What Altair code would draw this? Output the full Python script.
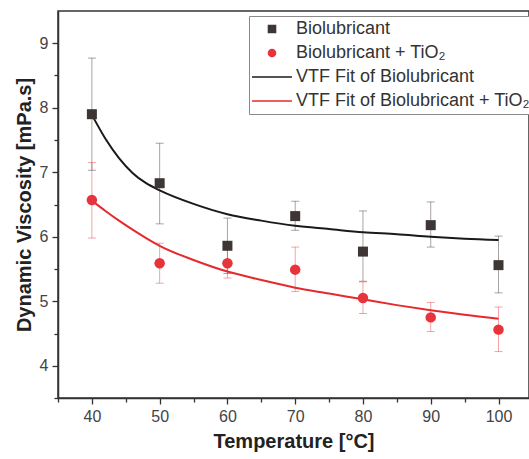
import altair as alt
import pandas as pd

# ---- data ----
temps = [40, 50, 60, 70, 80, 90, 100]

bio_mean = [7.90, 6.83, 5.86, 6.32, 5.77, 6.18, 5.56]
bio_lo   = [7.03, 6.20, 5.43, 6.10, 5.31, 5.84, 5.13]
bio_hi   = [8.77, 7.45, 6.29, 6.55, 6.40, 6.54, 6.01]

tio_mean = [6.57, 5.59, 5.59, 5.49, 5.05, 4.75, 4.56]
tio_lo   = [5.98, 5.28, 5.36, 5.15, 4.81, 4.53, 4.22]
tio_hi   = [7.15, 5.90, 5.80, 5.84, 5.30, 4.98, 4.91]

fit_T    = [40, 42, 44, 46, 48, 50, 55, 60, 65, 70, 75, 80, 85, 90, 95, 100]
fit_bio  = [7.89, 7.52, 7.22, 6.99, 6.83, 6.72, 6.51, 6.35, 6.25, 6.17, 6.12, 6.07, 6.04, 6.00, 5.97, 5.95]
fit_tio  = [6.56, 6.40, 6.25, 6.11, 5.98, 5.86, 5.64, 5.46, 5.33, 5.21, 5.12, 5.03, 4.94, 4.86, 4.79, 4.73]

legend_labels = ["Biolubricant", "Biolubricant + TiO₂",
                 "VTF Fit of Biolubricant", "VTF Fit of Biolubricant + TiO₂"]
# legend symbols: square, circle and long horizontal strokes (custom path)
LINE_PATH = "M-5.7,0H5.7"
legend_shapes = ["square", "circle", LINE_PATH, LINE_PATH]
legend_colors = ["#3d3634", "#e8333b", "#1a1a1a", "#e52a2e"]

x_ticks = [35, 40, 45, 50, 55, 60, 65, 70, 75, 80, 85, 90, 95, 100]
y_ticks = [3.5, 4, 4.5, 5, 5.5, 6, 6.5, 7, 7.5, 8, 8.5, 9]

FONT = "Liberation Sans"

pts = pd.DataFrame({
    "T": temps * 2,
    "v": bio_mean + tio_mean,
    "lo": bio_lo + tio_lo,
    "hi": bio_hi + tio_hi,
    "s": ["bio"] * 7 + ["tio"] * 7,
})
fits = pd.DataFrame({
    "T": fit_T * 2,
    "v": fit_bio + fit_tio,
    "s": ["bio"] * len(fit_T) + ["tio"] * len(fit_T),
})
leg = pd.DataFrame({"entry": legend_labels, "T": [0] * 4, "v": [0] * 4})

xs = alt.Scale(domain=[35, 104.5], nice=False, zero=False)
ys = alt.Scale(domain=[3.5, 9.5], nice=False, zero=False)

x_axis = alt.Axis(
    values=x_ticks,
    labelExpr="datum.value % 10 === 0 ? datum.value : ''",
    tickSize={"condition": {"test": "datum.value % 10 === 0", "value": 6}, "value": 4},
    title="Temperature [°C]", grid=False, titlePadding=7, labelPadding=4,
)
y_axis = alt.Axis(
    values=y_ticks,
    labelExpr="datum.value % 1 === 0 && datum.value > 3.5 ? datum.value : ''",
    tickSize={"condition": {"test": "datum.value % 1 === 0", "value": 6}, "value": 4},
    title="Dynamic Viscosity [mPa.s]", grid=False, titlePadding=5, labelPadding=4,
)

X = alt.X("T:Q", scale=xs, axis=x_axis)
Y = alt.Y("v:Q", scale=ys, axis=y_axis)

err_col = alt.Color("s:N", scale=alt.Scale(domain=["bio", "tio"], range=["#3d3634", "#e8333b"]), legend=None)

base = alt.Chart(pts)

err_rules = base.mark_rule(strokeWidth=1, opacity=0.45).encode(
    x=X, y=alt.Y("lo:Q", scale=ys, axis=y_axis), y2="hi:Q", color=err_col
)
cap_lo = base.mark_tick(orient="horizontal", size=8, thickness=1, opacity=0.45).encode(
    x=X, y=alt.Y("lo:Q", scale=ys, axis=y_axis), color=err_col
)
cap_hi = base.mark_tick(orient="horizontal", size=8, thickness=1, opacity=0.45).encode(
    x=X, y=alt.Y("hi:Q", scale=ys, axis=y_axis), color=err_col
)

fit_lines = alt.Chart(fits).mark_line(strokeWidth=2, interpolate="monotone").encode(
    x=X, y=Y,
    color=alt.Color("s:N", scale=alt.Scale(domain=["bio", "tio"], range=["#1a1a1a", "#e52a2e"]), legend=None),
    detail="s:N",
)

sq = base.transform_filter("datum.s === 'bio'").mark_point(
    shape="square", filled=True, size=100, opacity=1, color="#3d3634"
).encode(x=X, y=Y)
ci = base.transform_filter("datum.s === 'tio'").mark_point(
    shape="circle", filled=True, size=110, opacity=1, color="#e8333b"
).encode(x=X, y=Y)

LEG = alt.Legend(title=None, orient="none", legendX=191, legendY=5,
                 strokeColor="#8a8a8a", fillColor="white", padding=4,
                 labelFont=FONT, labelFontSize=18, labelColor="#333333",
                 labelLimit=500, rowPadding=6, labelOffset=15,
                 symbolSize=49, symbolOffset=10, symbolStrokeWidth=1.6)

legend_layer = alt.Chart(leg).transform_filter("datum.T > 1000").mark_point(
    filled=True, strokeWidth=1.6, opacity=1
).encode(
    x=X, y=Y,
    fill=alt.Fill("entry:N", scale=alt.Scale(domain=legend_labels, range=legend_colors), legend=LEG),
    stroke=alt.Stroke("entry:N", scale=alt.Scale(domain=legend_labels, range=legend_colors), legend=LEG),
    shape=alt.Shape("entry:N", scale=alt.Scale(domain=legend_labels, range=legend_shapes), legend=LEG),
)

chart = alt.layer(
    err_rules, cap_lo, cap_hi, fit_lines, sq, ci, legend_layer
).resolve_scale(color="independent").properties(
    width=471, height=387,
    autosize=alt.AutoSizeParams(type="none"),
    padding={"left": 58, "top": 11, "right": 0, "bottom": 61},
    background="white",
).configure_view(
    stroke="#333333", strokeWidth=1.5
).configure_axis(
    domainColor="#333333", domainWidth=1.5, tickColor="#333333", tickWidth=1.3,
    labelFont=FONT, labelFontSize=16, labelColor="#444444",
    titleFont=FONT, titleFontSize=20, titleFontWeight="bold", titleColor="#222222",
)

chart.save("out.html", embed_options={"renderer": "svg", "actions": False})
